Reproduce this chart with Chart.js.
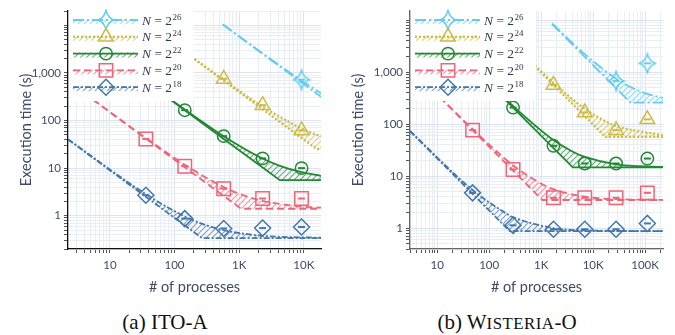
<!DOCTYPE html>
<html>
<head>
<meta charset="utf-8">
<script src="https://cdn.jsdelivr.net/npm/chart.js@4.4.0/dist/chart.umd.min.js"></script>
<style>
  body { margin: 0; background: #fff; width: 675px; height: 335px; position: relative; overflow: hidden; }
  canvas { position: absolute; top: 0; }
  #itoA { left: 0; }
  #wisO { left: 337px; }
  .caption { position: absolute; top: 309px; font-family: "Liberation Serif", "Times New Roman", serif; font-size: 21px; line-height: 26px; color: #111; white-space: nowrap; transform: translateX(-50%); }
  .sc { font-size: 0.8em; letter-spacing: 0.5px; }
</style>
</head>
<body>
<canvas id="itoA" width="337" height="300"></canvas>
<canvas id="wisO" width="338" height="300"></canvas>
<div class="caption" style="left:165px">(a) ITO-A</div>
<div class="caption" style="left:507px">(b) W<span class="sc">ISTERIA</span>-O</div>
<script>
// problem sizes, legend order
const sizes = [26, 24, 22, 20, 18];

// tick labels
const xTickVals = [10, 100, 1000, 10000, 100000];
const xTickText = ['10', '100', '1K', '10K', '100K'];
const yTickVals = [1, 10, 100, 1000];
const yTickText = ['1', '10', '100', '1,000'];

// ---- ITO-A (36 cores / node) ----
const itoProcs = [36, 144, 576, 2304, 9216];
const itoMeas26 = [null, null, null, null, 720];
const itoMeas24 = [null, null, 750, 210, 62];
const itoMeas22 = [null, 165, 47, 16, 10];
const itoMeas20 = [41, 11, 3.7, 2.3, 2.3];
const itoMeas18 = [2.7, 0.87, 0.54, 0.55, 0.58];

// model curves: x, upper, lower
const itoModelX26 = [556, 2304, 9216, 18432];
const itoHi26 = [10490, 2577, 689, 375];
const itoLo26 = [10430, 2517, 629, 315];
const itoModelX24 = [204, 576, 2304, 9216, 15840, 18432];
const itoHi24 = [1966, 712, 197, 68, 50, 46.5];
const itoLo24 = [1941, 688, 172, 43, 25, 25];
const itoModelX22 = [60, 144, 576, 2304, 4250, 9216, 18432];
const itoHi22 = [402, 171, 47, 15.9, 11.2, 8.2, 6.9];
const itoLo22 = [397, 165, 41, 10.3, 5.6, 5.6, 5.6];
const itoModelX20 = [4, 36, 144, 576, 1070, 2304, 9216, 18432];
const itoHi20 = [376, 43, 11.8, 4.0, 2.8, 2.05, 1.56, 1.48];
const itoLo20 = [375, 41.7, 10.4, 2.6, 1.4, 1.4, 1.4, 1.4];
const itoModelX18 = [2.25, 36, 144, 265, 576, 2304, 18432];
const itoHi18 = [40.3, 2.84, 0.965, 0.68, 0.496, 0.379, 0.345];
const itoLo18 = [40, 2.5, 0.625, 0.34, 0.34, 0.34, 0.34];

// ---- Wisteria-O (48 cores / node) ----
const wisProcs = [48, 288, 1728, 6912, 27648, 110592];
const wisMeas26 = [null, null, null, null, 676, 1480];
const wisMeas24 = [null, null, 569, 168, 77, 124];
const wisMeas22 = [null, 209, 38.5, 17.6, 17.6, 21.9];
const wisMeas20 = [77, 13.5, 3.85, 3.85, 3.85, 4.8];
const wisMeas18 = [4.8, 1.14, 0.96, 0.96, 0.96, 1.24];

const wisModelX26 = [1625, 6912, 27648, 52300, 110592, 221184];
const wisHi26 = [8630, 2228, 752, 520, 383, 321];
const wisLo26 = [8370, 1968, 492, 260, 260, 260];
const wisModelX24 = [400, 1728, 6912, 17250, 27648, 221184];
const wisHi24 = [2515, 626, 199, 114, 92.6, 61.4];
const wisLo24 = [2458, 569, 142, 57, 57, 57];
const wisModelX22 = [120, 288, 1728, 4070, 6912, 27648, 221184];
const wisHi22 = [517, 224, 49.6, 29.6, 23.5, 17, 15.1];
const wisLo22 = [502, 209, 34.8, 14.8, 14.8, 14.8, 14.8];
const wisModelX20 = [8, 48, 288, 1057, 1728, 6912, 27648, 221184];
const wisHi20 = [466, 80.6, 16.3, 7.0, 5.64, 4.04, 3.63, 3.52];
const wisLo20 = [462, 77, 12.8, 3.5, 3.5, 3.5, 3.5, 3.5];
const wisModelX18 = [3, 48, 250, 288, 1728, 6912, 221184];
const wisHi18 = [74.2, 5.46, 1.76, 1.64, 1.01, 0.912, 0.881];
const wisLo18 = [73.3, 4.58, 0.88, 0.88, 0.88, 0.88, 0.88];

const TXT = '#3e4a68';

function starImage(color) {
    const c = document.createElement('canvas');
    c.width = 20; c.height = 22;
    const g = c.getContext('2d');
    g.translate(10, 11);
    g.strokeStyle = color;
    g.lineWidth = 1.5;
    g.beginPath();
    g.moveTo(0, -9.5);
    g.quadraticCurveTo(2, -2, 8, 0);
    g.quadraticCurveTo(2, 2, 0, 9.5);
    g.quadraticCurveTo(-2, 2, -8, 0);
    g.quadraticCurveTo(-2, -2, 0, -9.5);
    g.closePath();
    g.stroke();
    return c;
}

const styles = {
    26: { color: '#66CCEE', dash: [11, 3, 2, 3], width: 1.8, marker: starImage('#66CCEE'), radius: 8 },
    24: { color: '#CCBB44', dash: [2, 2], width: 2.2, marker: 'triangle', radius: 8.5 },
    22: { color: '#228833', dash: [], width: 1.8, marker: 'circle', radius: 6.2 },
    20: { color: '#EE6677', dash: [7, 4], width: 1.8, marker: 'rect', radius: 9.5 },
    18: { color: '#4477AA', dash: [6, 2, 2, 2], width: 1.8, marker: 'rectRot', radius: 8 }
};

function hatch(ctx, color) {
    const c = document.createElement('canvas');
    c.width = 6; c.height = 6;
    const g = c.getContext('2d');
    g.strokeStyle = color;
    g.globalAlpha = 0.65;
    g.lineWidth = 1.2;
    g.beginPath();
    g.moveTo(0, 6); g.lineTo(6, 0);
    g.moveTo(-1, 1); g.lineTo(1, -1);
    g.moveTo(5, 7); g.lineTo(7, 5);
    g.stroke();
    return ctx.createPattern(c, 'repeat');
}

function logTicks(scale) {
    const ticks = [];
    const lo = Math.floor(Math.log10(scale.min));
    const hi = Math.ceil(Math.log10(scale.max));
    for (let e = lo; e <= hi; e++) {
        for (let m = 1; m <= 9; m++) {
            const v = m * Math.pow(10, e);
            if (v >= scale.min * 0.999 && v <= scale.max * 1.001) {
                ticks.push({ value: v, major: m === 1 });
            }
        }
    }
    scale.ticks = ticks;
}

function labelFor(vals, texts, v) {
    for (let i = 0; i < vals.length; i++) {
        if (Math.abs(vals[i] - v) / vals[i] < 1e-6) return texts[i];
    }
    return '';
}

const legendPlugin = {
    id: 'nLegend',
    afterDatasetsDraw(chart, args, opts) {
        const { ctx, chartArea } = chart;
        const x0 = chartArea.left + 1, y0 = chartArea.top;
        ctx.save();
        ctx.fillStyle = '#fff';
        ctx.fillRect(x0, y0, 125, 90);
        sizes.forEach((n, i) => {
            const s = styles[n];
            const cy = y0 + 9 + i * 16.8;
            const sx0 = x0 + 4, sx1 = x0 + 69;
            ctx.fillStyle = opts.patterns[n];
            ctx.fillRect(sx0, cy - 1, sx1 - sx0, 5);
            ctx.strokeStyle = s.color;
            ctx.lineWidth = s.width;
            ctx.setLineDash(s.dash);
            ctx.beginPath();
            ctx.moveTo(sx0, cy);
            ctx.lineTo(sx1, cy);
            ctx.stroke();
            ctx.setLineDash([]);
            ctx.lineWidth = 1.5;
            ctx.fillStyle = 'rgba(0,0,0,0)';
            Chart.helpers.drawPoint(ctx, { pointStyle: s.marker, radius: s.radius, rotation: 0, borderWidth: 1.5 }, x0 + 37, cy);
            // label
            let tx = x0 + 73;
            ctx.fillStyle = '#2f3a52';
            ctx.textBaseline = 'alphabetic';
            ctx.font = 'italic 13.5px "Liberation Serif", serif';
            ctx.fillText('N', tx, cy + 4.5);
            tx += ctx.measureText('N').width;
            ctx.font = '13.5px "Liberation Serif", serif';
            ctx.fillText(' = 2', tx, cy + 4.5);
            tx += ctx.measureText(' = 2').width;
            ctx.font = '9px "Liberation Serif", serif';
            ctx.fillText(String(n), tx + 0.5, cy - 0.5);
        });
        ctx.restore();
    }
};

function buildChart(id, procs, meas, models, xRange, yRange, axisColor, yAxisW, rightPad, yTitlePad) {
    const canvas = document.getElementById(id);
    const ctx = canvas.getContext('2d');
    const patterns = {};
    sizes.forEach(n => { patterns[n] = hatch(ctx, styles[n].color); });

    const datasets = [];
    sizes.forEach(n => {
        const s = styles[n];
        const m = models[n];
        const hiIdx = datasets.length;
        datasets.push({
            data: m.x.map((x, i) => ({ x: x, y: m.hi[i] })),
            borderColor: s.color, borderWidth: s.width, borderDash: s.dash,
            pointRadius: 0, cubicInterpolationMode: 'monotone', fill: false, order: 3
        });
        datasets.push({
            data: m.x.map((x, i) => ({ x: x, y: m.lo[i] })),
            borderColor: s.color, borderWidth: s.width, borderDash: s.dash,
            pointRadius: 0, tension: 0, fill: { target: hiIdx }, backgroundColor: patterns[n], order: 3
        });
    });
    sizes.forEach(n => {
        const s = styles[n];
        const pts = procs.map((x, i) => ({ x: x, y: meas[n][i] }));
        datasets.push({
            data: pts, showLine: false, pointStyle: s.marker, pointRadius: s.radius,
            pointBorderColor: s.color, pointBorderWidth: 1.5, pointBackgroundColor: 'rgba(255,255,255,0)',
            borderColor: s.color, order: 1
        });
        datasets.push({
            data: pts, showLine: false, pointStyle: 'line', pointRadius: 3.5,
            pointBorderColor: s.color, pointBorderWidth: 2, borderColor: s.color, order: 0
        });
    });

    const gridColor = c => (c.tick && c.tick.major) ? '#dde4ef' : '#e9eef6';

    return new Chart(ctx, {
        type: 'line',
        data: { datasets: datasets },
        plugins: [legendPlugin],
        options: {
            responsive: false,
            animation: false,
            devicePixelRatio: 1,
            layout: { padding: { left: 0, top: 7, right: rightPad, bottom: 0 } },
            plugins: {
                legend: { display: false },
                tooltip: { enabled: false },
                nLegend: { patterns: patterns }
            },
            scales: {
                x: {
                    type: 'logarithmic',
                    min: xRange[0], max: xRange[1],
                    afterBuildTicks: logTicks,
                    afterFit: sc => { sc.height = 51; },
                    border: { color: axisColor, width: 1.3 },
                    grid: { color: gridColor, tickColor: '#555', tickLength: 4, lineWidth: 1 },
                    ticks: {
                        autoSkip: false, maxRotation: 0, padding: 5, color: TXT,
                        font: { family: 'Lato', size: 11.5 },
                        callback: v => labelFor(xTickVals, xTickText, v)
                    },
                    title: {
                        display: true, text: '# of processes', color: TXT,
                        font: { family: 'Lato', size: 14.5 }, padding: { top: 0, bottom: 4 }
                    }
                },
                y: {
                    type: 'logarithmic',
                    min: yRange[0], max: yRange[1],
                    afterBuildTicks: logTicks,
                    afterFit: sc => { sc.width = yAxisW; },
                    border: { color: axisColor, width: 1.3 },
                    grid: { color: gridColor, tickColor: '#555', tickLength: 4, lineWidth: 1 },
                    ticks: {
                        autoSkip: false, padding: 3, color: TXT,
                        font: { family: 'Lato', size: 11.5 },
                        callback: v => labelFor(yTickVals, yTickText, v)
                    },
                    title: {
                        display: true, text: 'Execution time (s)', color: TXT,
                        font: { family: 'Lato', size: 14.5 }, padding: { top: yTitlePad, bottom: 0 }
                    }
                }
            }
        }
    });
}

buildChart('itoA', itoProcs,
    { 26: itoMeas26, 24: itoMeas24, 22: itoMeas22, 20: itoMeas20, 18: itoMeas18 },
    {
        26: { x: itoModelX26, hi: itoHi26, lo: itoLo26 },
        24: { x: itoModelX24, hi: itoHi24, lo: itoLo24 },
        22: { x: itoModelX22, hi: itoHi22, lo: itoLo22 },
        20: { x: itoModelX20, hi: itoHi20, lo: itoLo20 },
        18: { x: itoModelX18, hi: itoHi18, lo: itoLo18 }
    },
    [2.25, 18432], [0.2, 20000], '#111', 68, 16, 18);

buildChart('wisO', wisProcs,
    { 26: wisMeas26, 24: wisMeas24, 22: wisMeas22, 20: wisMeas20, 18: wisMeas18 },
    {
        26: { x: wisModelX26, hi: wisHi26, lo: wisLo26 },
        24: { x: wisModelX24, hi: wisHi24, lo: wisLo24 },
        22: { x: wisModelX22, hi: wisHi22, lo: wisLo22 },
        20: { x: wisModelX20, hi: wisHi20, lo: wisLo20 },
        18: { x: wisModelX18, hi: wisHi18, lo: wisLo18 }
    },
    [3, 221184], [0.4, 15000], '#666', 73, 12, 13);
</script>
</body>
</html>
